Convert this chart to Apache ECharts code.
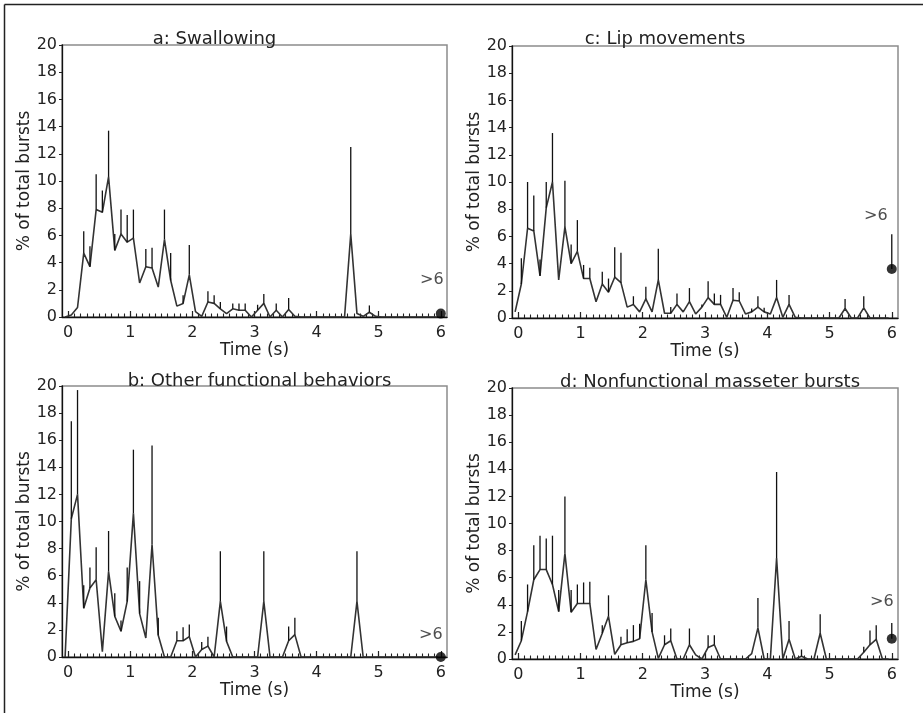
<!DOCTYPE html>
<html>
<head>
<meta charset="utf-8">
<script src="https://cdn.jsdelivr.net/npm/echarts@6/dist/echarts.min.js"></script>
<style>
html,body{margin:0;padding:0;background:#fff;}
#chart{width:923px;height:713px;}
</style>
</head>
<body>
<div id="chart"></div>
<script>
const _ = null;
// bin centres (s)
const binTimes = [-0.05,0.05,0.15,0.25,0.35,0.45,0.55,0.65,0.75,0.85,0.95,1.05,1.15,1.25,1.35,1.45,1.55,1.65,1.75,1.85,1.95,
  2.05,2.15,2.25,2.35,2.45,2.55,2.65,2.75,2.85,2.95,3.05,3.15,3.25,3.35,3.45,3.55,3.65,3.75,3.85,3.95,
  4.05,4.15,4.25,4.35,4.45,4.55,4.65,4.75,4.85,4.95,5.05,5.15,5.25,5.35,5.45,5.55,5.65,5.75,5.85,5.95];
const xTickLabels = [0,1,2,3,4,5,6];
const yTickLabels = [0,2,4,6,8,10,12,14,16,18,20];
const overflowTime = 6;

const panelTitles = ['a: Swallowing','c: Lip movements','b: Other functional behaviors','d: Nonfunctional masseter bursts'];

// a: Swallowing
const meanA = [0,0.15,0.7,4.7,3.7,7.9,7.7,10.3,4.9,6.1,5.5,5.8,2.5,3.7,3.6,2.2,5.7,2.7,0.8,1.0,3.1,
  0.4,0.05,1.1,1.0,0.6,0.25,0.6,0.5,0.5,0,0.5,1.0,0,0.5,0,0.55,0.05,0,0,0,
  0,0,0,0,0,6.1,0.25,0.05,0.35,0.05,0,0,0,0,0,0,0,0,0,0];
const upperA = [_,_,_,6.3,5.2,10.5,9.3,13.7,6.1,7.9,7.5,7.9,_,5.0,5.1,_,7.9,4.7,_,1.6,5.3,
  _,_,1.9,1.6,1.1,_,1.0,1.0,1.0,_,0.9,1.7,_,1.0,_,1.4,_,_,_,_,
  _,_,_,_,_,12.5,_,_,0.85,_,_,_,_,_,_,_,_,_,_,_];
const overflowA = [0.25, _]; // mean, upper

// b: Other functional behaviors
const meanB = [0,10.2,12.0,3.6,5.1,5.7,0.4,6.3,3.0,1.9,4.1,10.6,3.2,1.4,8.3,1.6,0,0,1.2,1.2,1.5,
  0,0.55,0.8,0,4.1,1.15,0,0,0,0,0,4.1,0,0,0,1.2,1.65,0,0,0,
  0,0,0,0,0,0,4.1,0,0,0,0,0,0,0,0,0,0,0,0,0];
const upperB = [_,17.4,19.7,5.3,6.6,8.1,_,9.3,4.7,2.7,6.6,15.3,5.6,_,15.6,2.9,_,_,1.9,2.2,2.4,
  _,1.1,1.5,_,7.8,2.25,_,_,_,_,_,7.8,_,_,_,2.25,2.9,_,_,_,
  _,_,_,_,_,_,7.8,_,_,_,_,_,_,_,_,_,_,_,_,_];
const overflowB = [0, _];

// c: Lip movements
const meanC = [0.45,2.5,6.6,6.4,3.1,8.1,10.0,2.8,6.7,4.0,4.9,2.9,2.9,1.2,2.5,1.9,3.0,2.6,0.8,1.0,0.45,
  1.4,0.45,2.8,0.35,0.35,1.0,0.45,1.2,0.3,0.8,1.5,1.0,1.0,0.05,1.3,1.25,0.3,0.45,0.8,0.45,
  0.3,1.5,0.05,1.0,0.05,0,0,0,0,0,0,0,0.7,0,0,0.75,0,0,0,0];
const upperC = [_,4.4,10.0,9.0,4.3,10.0,13.6,_,10.1,5.4,7.2,3.9,3.7,_,3.4,2.9,5.2,4.8,_,1.6,_,
  2.3,_,5.1,_,0.8,1.8,_,2.2,_,1.0,2.7,1.8,1.7,_,2.2,1.9,_,0.7,1.6,0.75,
  _,2.8,_,1.7,_,_,_,_,_,_,_,_,1.4,_,_,1.6,_,_,_,_];
const overflowC = [3.6, 6.15];

// d: Nonfunctional masseter bursts
const meanD = [0.3,1.35,3.5,5.85,6.6,6.6,5.5,3.5,7.8,3.45,4.1,4.1,4.1,0.7,1.9,3.15,0.35,1.05,1.2,1.3,1.5,
  5.85,2.0,0.05,1.05,1.35,0,0,1.05,0.3,0,0.85,1.05,0,0,0,0,0,0.4,2.3,0,
  0,7.45,0,1.45,0,0.2,0,0,1.9,0,0,0,0,0,0,0.5,1.05,1.45,0,0];
const upperD = [_,2.8,5.5,8.4,9.1,8.9,9.1,5.1,12.0,5.1,5.5,5.65,5.7,_,2.5,4.7,_,1.65,2.2,2.5,2.6,
  8.4,3.4,_,1.75,2.25,_,_,2.25,_,_,1.75,1.75,_,_,_,_,_,_,4.5,_,
  _,13.8,_,2.8,_,0.7,_,_,3.3,_,_,_,_,_,_,0.9,2.1,2.5,_,_];
const overflowD = [1.5, 2.65];

const FONT = 'DejaVu Sans';
const chart = echarts.init(document.getElementById('chart'), null, {renderer: 'canvas'});

// order: a (top-left), c (top-right), b (bottom-left), d (bottom-right)
const panels = [
  {mean: meanA, upper: upperA, over: overflowA, grid: {left: 62, top: 45, width: 385, height: 272}, title: [209.5, 25], lab: [-9, -34]},
  {mean: meanC, upper: upperC, over: overflowC, grid: {left: 512, top: 46, width: 386, height: 272}, title: [660, 25], lab: [-16, -53]},
  {mean: meanB, upper: upperB, over: overflowB, grid: {left: 62, top: 386, width: 385, height: 271}, title: [254.5, 367], lab: [-10, -22]},
  {mean: meanD, upper: upperD, over: overflowD, grid: {left: 512, top: 388, width: 386, height: 271}, title: [705, 368], lab: [-10, -37]}
];

const minorTicks = [];
for (let k = 0; k <= 60; k++) minorTicks.push(k / 10);

const grids = [], xAxes = [], yAxes = [], series = [], titles = [];

function errRender(params, api) {
  const x = api.value(0), lo = api.value(1), hi = api.value(2);
  const p1 = api.coord([x, lo]);
  const p2 = api.coord([x, hi]);
  return {type: 'line', shape: {x1: p1[0], y1: p1[1], x2: p2[0], y2: p2[1]},
    style: {stroke: '#111', lineWidth: 1.3}};
}

panels.forEach((p, i) => {
  grids.push(Object.assign({show: true, borderColor: '#8c8c8c', borderWidth: 1.5,
    backgroundColor: 'transparent', containLabel: false, outerBoundsMode: 'none'}, p.grid));
  titles.push({text: panelTitles[i], left: p.title[0], top: p.title[1], textAlign: 'center',
    textStyle: {fontFamily: FONT, fontSize: 18, fontWeight: 'normal', color: '#222'}});
  // main x axis
  xAxes.push({type: 'value', gridIndex: i, min: -0.1, max: 6.1,
    name: 'Time (s)', nameLocation: 'middle', nameGap: 24,
    nameTextStyle: {fontFamily: FONT, fontSize: 17, color: '#222'},
    axisLine: {show: true, onZero: false, lineStyle: {color: '#111', width: 1.3}},
    axisTick: {show: true, inside: true, length: 6, customValues: xTickLabels, lineStyle: {color: '#222', width: 1.2}},
    axisLabel: {show: true, customValues: xTickLabels, margin: 8, fontFamily: FONT, fontSize: 16, color: '#222'},
    splitLine: {show: false}});
  // minor tick axis
  xAxes.push({type: 'value', gridIndex: i, min: -0.1, max: 6.1, position: 'bottom',
    axisLine: {show: false, onZero: false},
    axisTick: {show: true, inside: true, length: 3.5, customValues: minorTicks, lineStyle: {color: '#222', width: 1.1}},
    axisLabel: {show: false}, splitLine: {show: false}});
  yAxes.push({type: 'value', gridIndex: i, min: 0, max: 20, interval: 2,
    name: '% of total bursts', nameLocation: 'middle', nameGap: 27,
    nameTextStyle: {fontFamily: FONT, fontSize: 17, color: '#222'},
    axisLine: {show: true, onZero: false, lineStyle: {color: '#111', width: 1.3}},
    axisTick: {show: true, inside: false, length: 3, lineStyle: {color: '#222'}},
    axisLabel: {margin: 5, fontFamily: FONT, fontSize: 16, color: '#222'},
    splitLine: {show: false}});

  const lineData = binTimes.map((t, k) => [t, p.mean[k]]);
  const errData = [];
  binTimes.forEach((t, k) => { if (p.upper[k] !== null) errData.push([t, p.mean[k], p.upper[k]]); });
  if (p.over[1] !== null) errData.push([overflowTime, p.over[0], p.over[1]]);

  series.push({type: 'line', xAxisIndex: 2 * i, yAxisIndex: i, data: lineData, showSymbol: false,
    lineStyle: {color: '#333', width: 1.6}, z: 2, animation: false});
  series.push({type: 'custom', xAxisIndex: 2 * i, yAxisIndex: i, data: errData, renderItem: errRender,
    encode: {x: 0, y: [1, 2]}, z: 3, animation: false});
  series.push({type: 'scatter', xAxisIndex: 2 * i, yAxisIndex: i, data: [[overflowTime, p.over[0]]],
    symbolSize: 10, itemStyle: {color: '#000'}, z: 4, animation: false,
    label: {show: true, formatter: '>6', position: 'inside', offset: p.lab,
      fontFamily: FONT, fontSize: 16, color: '#222'}});
});

chart.setOption({
  animation: false,
  backgroundColor: '#fff',
  title: titles,
  grid: grids,
  xAxis: xAxes,
  yAxis: yAxes,
  series: series,
  graphic: [
    {type: 'line', shape: {x1: 4.5, y1: 4.5, x2: 923, y2: 4.5}, style: {stroke: '#222', lineWidth: 1.5}, silent: true},
    {type: 'line', shape: {x1: 4.5, y1: 4.5, x2: 4.5, y2: 713}, style: {stroke: '#222', lineWidth: 1.5}, silent: true}
  ]
});
</script>
</body>
</html>
